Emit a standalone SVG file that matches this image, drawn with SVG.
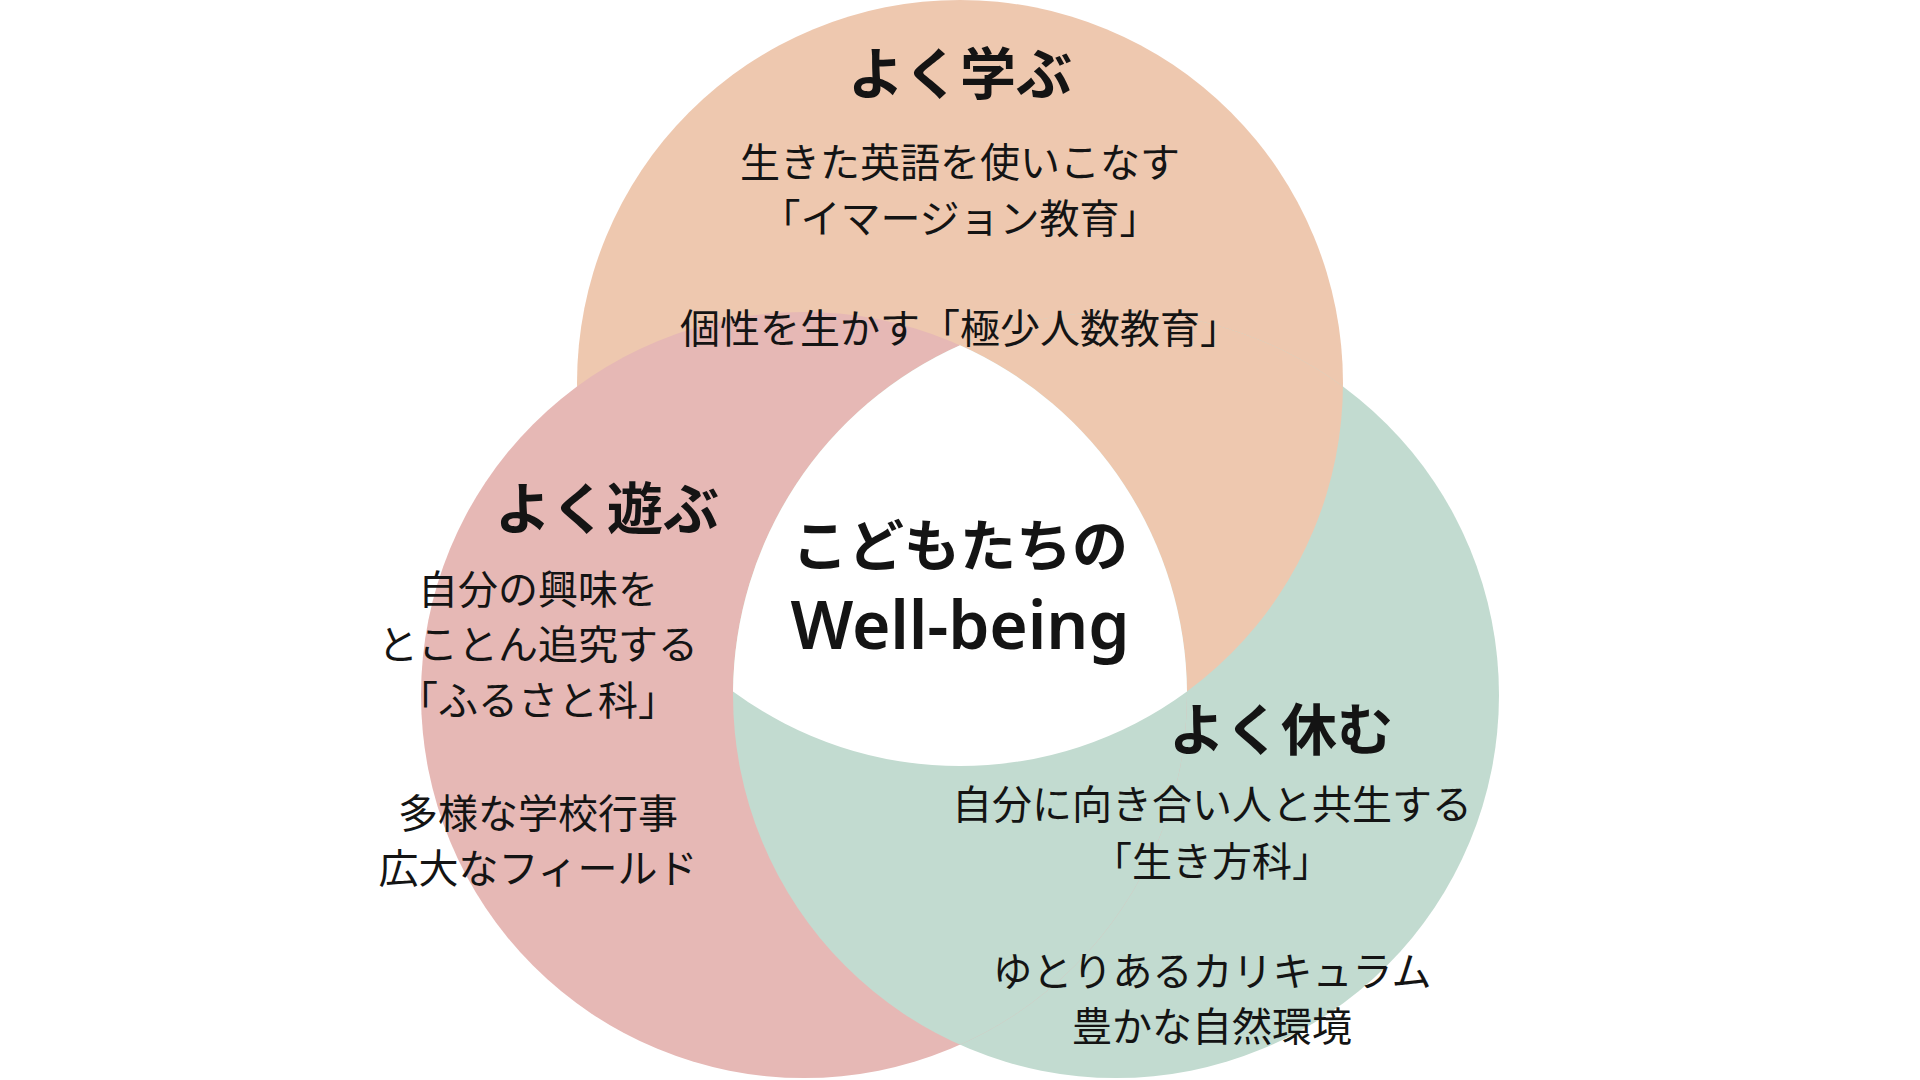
<svg xmlns="http://www.w3.org/2000/svg" width="1920" height="1080" viewBox="0 0 1920 1080">
<style>
.t{font-family:"Noto Sans CJK JP","Noto Sans",sans-serif;fill:#141414;text-anchor:middle}
.h{font-size:56px;font-weight:700}
.b{font-size:40px;font-weight:400}
.lat{font-family:"Noto Sans","Noto Sans CJK JP",sans-serif;font-size:66px;font-weight:600}
</style>
<defs>
<clipPath id="clipG"><circle cx="1116" cy="695" r="383"/></clipPath>
<clipPath id="clipP"><circle cx="804" cy="695" r="383"/></clipPath>
</defs>
<rect width="1920" height="1080" fill="#ffffff"/>
<g id="shapes">
<circle id="circle-learn" cx="960" cy="383" r="383" fill="#EEC8AF"/>
<circle id="circle-rest" cx="1116" cy="695" r="383" fill="#C2DBD0"/>
<circle id="circle-play" cx="804" cy="695" r="383" fill="#E6B8B5"/>
<circle cx="960" cy="383" r="383" fill="#EEC8AF" clip-path="url(#clipG)"/>
<circle cx="1116" cy="695" r="383" fill="#C2DBD0" clip-path="url(#clipP)"/>
<path id="center-region" d="M960,345.2 A383,383 0 0 0 733,691.5 A383,383 0 0 0 1187,691.5 A383,383 0 0 0 960,345.2 Z" fill="#ffffff"/>
</g>
<g id="node-learn">
<text class="t h" x="960" y="94">よく学ぶ</text>
<text class="t b" x="960" y="177">生きた英語を使いこなす</text>
<text class="t b" x="960" y="233">「イマージョン教育」</text>
<text class="t b" x="960" y="343">個性を生かす「極少人数教育」</text>
</g>
<g id="node-play">
<text class="t h" x="607" y="529">よく遊ぶ</text>
<text class="t b" x="538" y="604">自分の興味を</text>
<text class="t b" x="538" y="659">とことん追究する</text>
<text class="t b" x="538" y="715">「ふるさと科」</text>
<text class="t b" x="538" y="828">多様な学校行事</text>
<text class="t b" x="538" y="883">広大なフィールド</text>
</g>
<g id="node-center">
<text class="t h" x="960" y="566">こどもたちの</text>
<text class="t lat" x="960" y="649" textLength="339" lengthAdjust="spacing">Well-being</text>
</g>
<g id="node-rest">
<text class="t h" x="1281" y="750">よく休む</text>
<text class="t b" x="1212" y="819">自分に向き合い人と共生する</text>
<text class="t b" x="1212" y="876">「生き方科」</text>
<text class="t b" x="1212" y="986">ゆとりあるカリキュラム</text>
<text class="t b" x="1212" y="1041">豊かな自然環境</text>
</g>
</svg>
